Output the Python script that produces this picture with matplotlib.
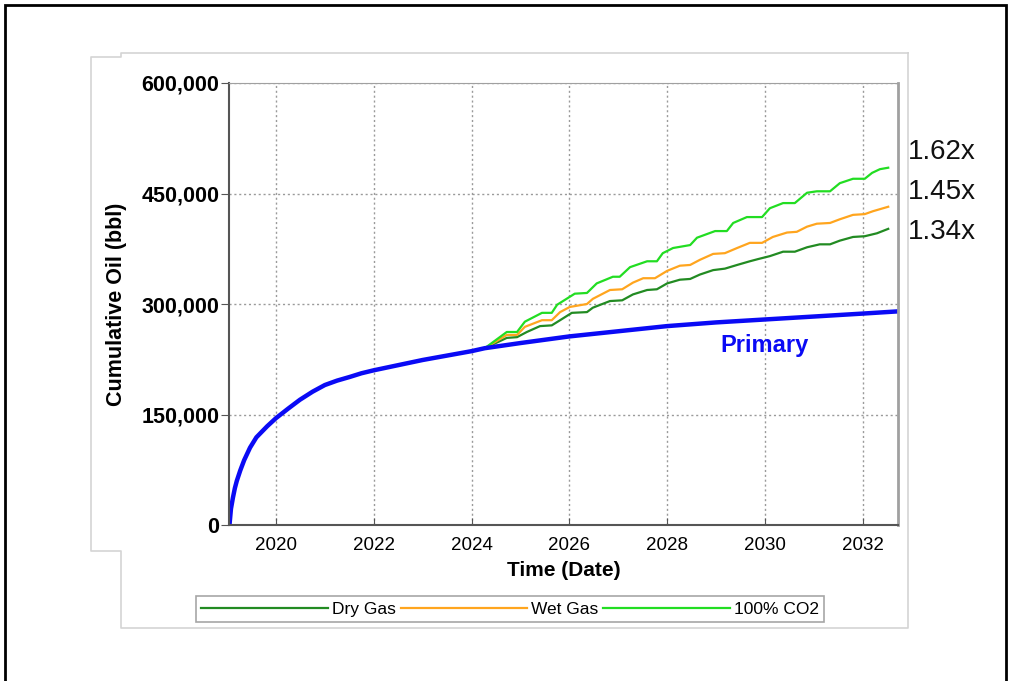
import matplotlib
matplotlib.use("Agg")
import matplotlib.pyplot as plt
from matplotlib.lines import Line2D
import matplotlib.ticker as mticker

plt.rcParams["font.family"] = ["Liberation Sans", "DejaVu Sans"]

# primary depletion (years, bbl)
primary_t = [2019.05, 2019.08, 2019.12, 2019.16, 2019.2, 2019.27, 2019.35, 2019.47,
             2019.6, 2019.82, 2020.0, 2020.25, 2020.49, 2020.75, 2021.0, 2021.25,
             2021.51, 2021.75, 2022.0, 2022.5, 2023.0, 2023.5, 2024.0, 2024.27,
             2025.0, 2026.0, 2027.0, 2028.0, 2029.0, 2030.0, 2031.0, 2032.0, 2032.72]
primary_q = [0, 22000, 37000, 50000, 60000, 74000, 88000, 105000,
             119000, 134000, 145000, 158000, 170000, 181000, 190000, 196000,
             201000, 206000, 210000, 217000, 224000, 230000, 236000, 240000,
             247000, 256000, 263000, 270000, 275000, 279000, 283000, 287000, 290000]

# dry gas injection
dry_t = [2024.27, 2024.72, 2024.93, 2025.13, 2025.40, 2025.64, 2025.81, 2026.05,
         2026.36, 2026.48, 2026.83, 2027.08, 2027.30, 2027.59, 2027.79, 2028.00,
         2028.26, 2028.47, 2028.67, 2028.94, 2029.18, 2029.43, 2029.69, 2029.86,
         2030.10, 2030.37, 2030.61, 2030.86, 2031.12, 2031.33, 2031.53, 2031.80,
         2032.04, 2032.29, 2032.52]
dry_q = [240000, 254000, 255000, 262000, 270000, 271000, 278000, 288000,
         289000, 295000, 304000, 305000, 313000, 319000, 320000, 328000,
         333000, 334000, 340000, 346000, 348000, 353000, 358000, 361000,
         365000, 371000, 371000, 377000, 381000, 381000, 386000, 391000,
         392000, 396000, 402000]

# wet gas injection
wet_t = [2024.27, 2024.72, 2024.93, 2025.09, 2025.44, 2025.64, 2025.81, 2026.01,
         2026.36, 2026.48, 2026.83, 2027.08, 2027.30, 2027.51, 2027.75, 2028.00,
         2028.26, 2028.47, 2028.67, 2028.94, 2029.18, 2029.43, 2029.69, 2029.94,
         2030.16, 2030.45, 2030.65, 2030.86, 2031.06, 2031.33, 2031.53, 2031.80,
         2032.04, 2032.21, 2032.52]
wet_q = [240000, 258000, 258000, 269000, 278000, 278000, 289000, 296000,
         300000, 307000, 319000, 320000, 329000, 335000, 335000, 345000,
         352000, 353000, 360000, 368000, 369000, 376000, 383000, 383000,
         391000, 397000, 398000, 405000, 409000, 410000, 415000, 421000,
         422000, 426000, 432000]

# 100% CO2 injection
co2_t = [2024.27, 2024.72, 2024.93, 2025.09, 2025.44, 2025.64, 2025.75, 2026.11,
         2026.36, 2026.56, 2026.89, 2027.03, 2027.24, 2027.59, 2027.79, 2027.91,
         2028.12, 2028.47, 2028.61, 2028.98, 2029.22, 2029.35, 2029.63, 2029.94,
         2030.10, 2030.37, 2030.61, 2030.86, 2031.06, 2031.33, 2031.53, 2031.80,
         2032.04, 2032.19, 2032.35, 2032.52]
co2_q = [240000, 262000, 262000, 276000, 288000, 288000, 299000, 314000,
         315000, 328000, 337000, 337000, 350000, 358000, 358000, 369000,
         376000, 380000, 390000, 399000, 399000, 410000, 418000, 418000,
         430000, 437000, 437000, 451000, 453000, 453000, 464000, 470000,
         470000, 478000, 483000, 485000]

ratios = ["1.62x", "1.45x", "1.34x"]

fig = plt.figure(figsize=(10.1, 6.81), dpi=100)

# outer black frame
fig.add_artist(plt.Rectangle((0.005, -0.01), 0.991, 1.003, transform=fig.transFigure,
                             fill=False, edgecolor="black", linewidth=2))

# light grey panel outline with its stepped left edge
px = [908, 121, 121, 91, 91, 121, 121, 908, 908]
py = [53, 53, 57, 57, 551, 551, 628, 628, 53]
fig.add_artist(Line2D([x / 1010 for x in px], [1 - y / 681 for y in py],
                      transform=fig.transFigure, color="#d4d4d4", linewidth=1.2))

ax = fig.add_axes([229 / 1010, 1 - 525 / 681, 669 / 1010, 442 / 681])

ax.plot(dry_t, dry_q, color="#228b22", linewidth=1.6, label="Dry Gas")
ax.plot(wet_t, wet_q, color="#ffa51e", linewidth=1.6, label="Wet Gas")
ax.plot(co2_t, co2_q, color="#22dd22", linewidth=1.6, label="100% CO2")
ax.plot(primary_t, primary_q, color="#0a0af5", linewidth=3.2)

ax.text(2030.0, 243000, "Primary", color="#0a0af5", fontsize=17,
        fontweight="bold", ha="center", va="center")

for i, r in enumerate(ratios):
    fig.text(908 / 1010, 1 - (152 + 40 * i) / 681, r, fontsize=20,
             ha="left", va="center", color="#111111")

ax.set_xlim(2019.04, 2032.72)
ax.set_ylim(0, 600000)
ax.set_xticks([2020, 2022, 2024, 2026, 2028, 2030, 2032])
ax.set_yticks([0, 150000, 300000, 450000, 600000])
ax.yaxis.set_major_formatter(mticker.FuncFormatter(lambda v, p: f"{int(v):,}"))

ax.grid(True, color="#9a9a9a", linestyle=(0, (1.5, 2)), linewidth=1)
ax.tick_params(axis="y", direction="out", length=6, color="#555555",
               labelsize=15.5, pad=1)
ax.tick_params(axis="x", direction="in", length=5, color="#555555",
               labelsize=13.5, pad=9)
for lab in ax.get_yticklabels():
    lab.set_fontweight("bold")

for side in ["left", "bottom"]:
    ax.spines[side].set_color("#555555")
    ax.spines[side].set_linewidth(1.5)
ax.spines["top"].set_color("#a0a0a0")
ax.spines["right"].set_color("#a0a0a0")
ax.spines["right"].set_linewidth(2)

ax.set_xlabel("Time (Date)", fontsize=15, fontweight="bold", labelpad=5)
ax.set_ylabel("Cumulative Oil (bbl)", fontsize=15.5, fontweight="bold", labelpad=10)

leg = fig.legend(loc="center", bbox_to_anchor=(510 / 1010, 1 - 609 / 681), ncol=3,
                 fontsize=12.5, frameon=True, fancybox=False, edgecolor="#909090",
                 handlelength=7.3, handletextpad=0.2, columnspacing=0.3,
                 borderpad=0.3, borderaxespad=0)
leg.get_frame().set_linewidth(1.2)

fig.savefig("out.png", dpi=100)
